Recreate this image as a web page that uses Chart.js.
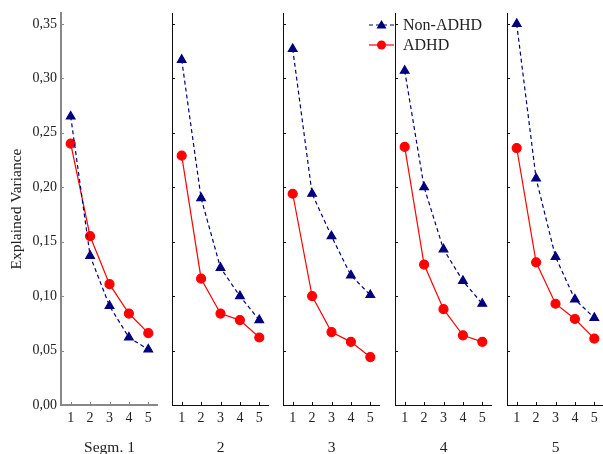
<!DOCTYPE html>
<html>
<head>
<meta charset="utf-8">
<script src="https://cdn.jsdelivr.net/npm/chart.js@4.4.1/dist/chart.umd.min.js"></script>
<style>
  body { margin: 0; background: #fff; }
  #wrap { position: relative; width: 603px; height: 454px; overflow: hidden; font-family: "Liberation Serif", serif; }
  .panel { position: absolute; top: 0; height: 454px; }
  #legend { position: absolute; left: 368px; top: 15px; font-size: 16px; color: #222; line-height: 20px; }
  #legend div { display: flex; align-items: center; }
  #legend svg { margin-right: 8px; }
</style>
</head>
<body>
<div id="wrap">
  <div id="legend">
    <div><svg width="27" height="20"><line x1="1" y1="10" x2="26" y2="10" stroke="#00007f" stroke-width="1.2" stroke-dasharray="4,3"/><polygon points="13.5,5 18.5,13.5 8.5,13.5" fill="#00007f"/></svg>Non-ADHD</div>
    <div><svg width="27" height="20"><line x1="1" y1="10" x2="26" y2="10" stroke="#ff0000" stroke-width="1.2"/><circle cx="13.5" cy="10" r="4.5" fill="#ff0000"/></svg>ADHD</div>
  </div>
</div>
<script>
// ---- Data ----
const components = ['1', '2', '3', '4', '5'];
const segmentLabels = ['Segm. 1', '2', '3', '4', '5'];
const yTicks = [0, 0.05, 0.10, 0.15, 0.20, 0.25, 0.30, 0.35];

const nonAdhd1 = [0.265, 0.137, 0.091, 0.062, 0.051];
const nonAdhd2 = [0.317, 0.190, 0.126, 0.100, 0.078];
const nonAdhd3 = [0.327, 0.194, 0.155, 0.119, 0.101];
const nonAdhd4 = [0.307, 0.200, 0.143, 0.114, 0.093];
const nonAdhd5 = [0.350, 0.208, 0.136, 0.097, 0.080];

const adhd1 = [0.240, 0.155, 0.111, 0.084, 0.066];
const adhd2 = [0.229, 0.116, 0.084, 0.078, 0.062];
const adhd3 = [0.194, 0.100, 0.067, 0.058, 0.044];
const adhd4 = [0.237, 0.129, 0.088, 0.064, 0.058];
const adhd5 = [0.236, 0.131, 0.093, 0.079, 0.061];

const nonAdhdSeries = [nonAdhd1, nonAdhd2, nonAdhd3, nonAdhd4, nonAdhd5];
const adhdSeries = [adhd1, adhd2, adhd3, adhd4, adhd5];

// ---- Layout ----
const axisX = [61, 172, 283, 395, 507];
const plotW = 97;
const font = { family: '"Liberation Serif", serif', size: 14 };
const titleFont = { family: '"Liberation Serif", serif', size: 15.5 };

// small inward ticks, like the original
const innerTicks = {
    id: 'innerTicks',
    afterDraw(chart) {
        const { ctx, chartArea, scales } = chart;
        const col = chart.options.plugins.innerTicks.color;
        ctx.save();
        ctx.strokeStyle = col;
        ctx.lineWidth = 1;
        scales.y.ticks.forEach((t, i) => {
            const y = Math.round(scales.y.getPixelForTick(i)) + 0.5;
            ctx.beginPath();
            ctx.moveTo(chartArea.left, y);
            ctx.lineTo(chartArea.left + 3, y);
            ctx.stroke();
        });
        scales.x.ticks.forEach((t, i) => {
            const x = Math.round(scales.x.getPixelForTick(i)) + 0.5;
            ctx.beginPath();
            ctx.moveTo(x, chartArea.bottom);
            ctx.lineTo(x, chartArea.bottom - 3);
            ctx.stroke();
        });
        ctx.restore();
    }
};

function makePanel(i) {
    const first = i === 0;
    const yW = first ? 61 : 2;
    const div = document.createElement('div');
    div.className = 'panel';
    const w = yW + plotW;
    div.style.left = (axisX[i] - yW) + 'px';
    div.style.width = w + 'px';
    const cv = document.createElement('canvas');
    div.appendChild(cv);
    document.getElementById('wrap').insertBefore(div, document.getElementById('legend'));

    const axisCol = first ? '#888' : '#111';
    const axisW = first ? 2 : 1;

    new Chart(cv, {
        type: 'line',
        data: {
            labels: components,
            datasets: [{
                label: 'Non-ADHD',
                data: nonAdhdSeries[i],
                borderColor: '#00007f',
                backgroundColor: '#00007f',
                borderWidth: 1.2,
                borderDash: [4, 3],
                pointStyle: 'triangle',
                pointRadius: 5,
                tension: 0,
                clip: false,
            }, {
                label: 'ADHD',
                data: adhdSeries[i],
                borderColor: '#ff0000',
                backgroundColor: '#ff0000',
                borderWidth: 1.2,
                pointStyle: 'circle',
                pointRadius: 4.5,
                tension: 0,
                clip: false,
            }]
        },
        options: {
            responsive: true,
            maintainAspectRatio: false,
            animation: false,
            layout: { autoPadding: false, padding: { top: 13, left: 0, right: 0, bottom: 0 } },
            plugins: {
                legend: { display: false },
                tooltip: { enabled: false },
                innerTicks: { color: axisCol }
            },
            scales: {
                x: {
                    offset: true,
                    grid: { display: false, drawTicks: false },
                    border: { display: true, color: axisCol, width: axisW },
                    ticks: { color: '#222', font: font, padding: 5, maxRotation: 0 },
                    title: { display: true, text: segmentLabels[i], color: '#222', font: titleFont, padding: { top: 0, bottom: -3 } },
                    afterFit: s => { s.height = 49; s.paddingLeft = 0; s.paddingRight = 0; }
                },
                y: {
                    min: 0,
                    max: 0.36,
                    afterBuildTicks: s => { s.ticks = yTicks.map(v => ({ value: v })); },
                    grid: { display: false, drawTicks: false },
                    border: { display: true, color: axisCol, width: axisW },
                    ticks: {
                        display: first,
                        color: '#222',
                        font: font,
                        padding: 4,
                        callback: v => v.toFixed(2).replace('.', ',')
                    },
                    title: { display: first, text: 'Explained Variance', color: '#222', font: titleFont, padding: { top: 8, bottom: 0 } },
                    afterFit: s => { s.width = yW; s.paddingTop = 0; s.paddingBottom = 0; }
                }
            }
        },
        plugins: [innerTicks]
    });
}

for (let i = 0; i < 5; i++) makePanel(i);
</script>
</body>
</html>
